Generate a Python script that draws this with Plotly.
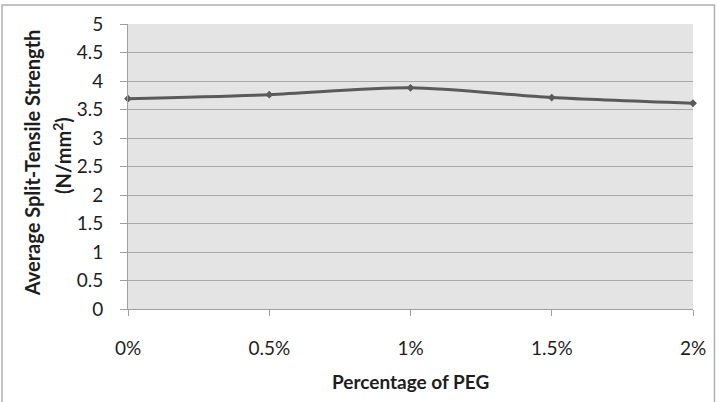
import plotly.graph_objects as go

categories = ["0%", "0.5%", "1%", "1.5%", "2%"]
x_vals = [0, 0.5, 1, 1.5, 2]
strength = [3.69, 3.76, 3.88, 3.71, 3.61]
y_ticks = [0, 0.5, 1, 1.5, 2, 2.5, 3, 3.5, 4, 4.5, 5]
y_ticklabels = ["0", "0.5", "1", "1.5", "2", "2.5", "3", "3.5", "4", "4.5", "5"]

font_family = "Lato, Open Sans, sans-serif"
txt = "#1e1e1e"

fig = go.Figure()
fig.add_trace(go.Scatter(
    x=x_vals, y=strength, mode="lines+markers",
    line=dict(color="#5a5a5a", width=3, shape="spline", smoothing=0.8),
    marker=dict(symbol="diamond", size=6, color="#5a5a5a"),
    showlegend=False, cliponaxis=False,
))

fig.update_layout(
    width=719, height=402,
    margin=dict(l=128, r=26, t=24, b=93),
    paper_bgcolor="white",
    plot_bgcolor="#e4e4e4",
    font=dict(family=font_family, size=19, color=txt),
    xaxis=dict(
        range=[0, 2], tickvals=x_vals, ticktext=categories,
        showgrid=False, zeroline=False,
        showline=True, linecolor="#a0a0a0", linewidth=1,
        ticks="outside", ticklen=6, tickcolor="#a0a0a0",
        ticklabelstandoff=16,
        tickfont=dict(size=19, color=txt),
    ),
    yaxis=dict(
        range=[0, 5], tickvals=y_ticks, ticktext=y_ticklabels,
        showgrid=True, gridcolor="#a8a8a8", gridwidth=1, zeroline=False,
        showline=True, linecolor="#a0a0a0", linewidth=1,
        ticks="outside", ticklen=7, tickcolor="#a0a0a0",
        ticklabelstandoff=13,
        tickfont=dict(size=19, color=txt),
    ),
    annotations=[
        dict(text="<b>Average Split-Tensile Strength</b>", xref="paper", yref="paper",
             x=-0.170, y=0.515, textangle=-90, showarrow=False,
             xanchor="center", yanchor="middle", font=dict(size=20, color=txt)),
        dict(text="<b>(N/mm<sup>2</sup>)</b>", xref="paper", yref="paper",
             x=-0.117, y=0.54, textangle=-90, showarrow=False,
             xanchor="center", yanchor="middle", font=dict(size=20, color=txt)),
        dict(text="<b>Percentage of PEG</b>", xref="paper", yref="paper",
             x=0.5, y=-0.253, showarrow=False,
             xanchor="center", yanchor="middle", font=dict(size=19, color=txt)),
    ],
    shapes=[dict(type="rect", xref="paper", yref="paper",
                 x0=-0.223, x1=1.038, y0=-0.34, y1=1.067,
                 line=dict(color="#b0b0b0", width=1.5), fillcolor="rgba(0,0,0,0)", layer="below")],
)

fig.write_html("out.html")
